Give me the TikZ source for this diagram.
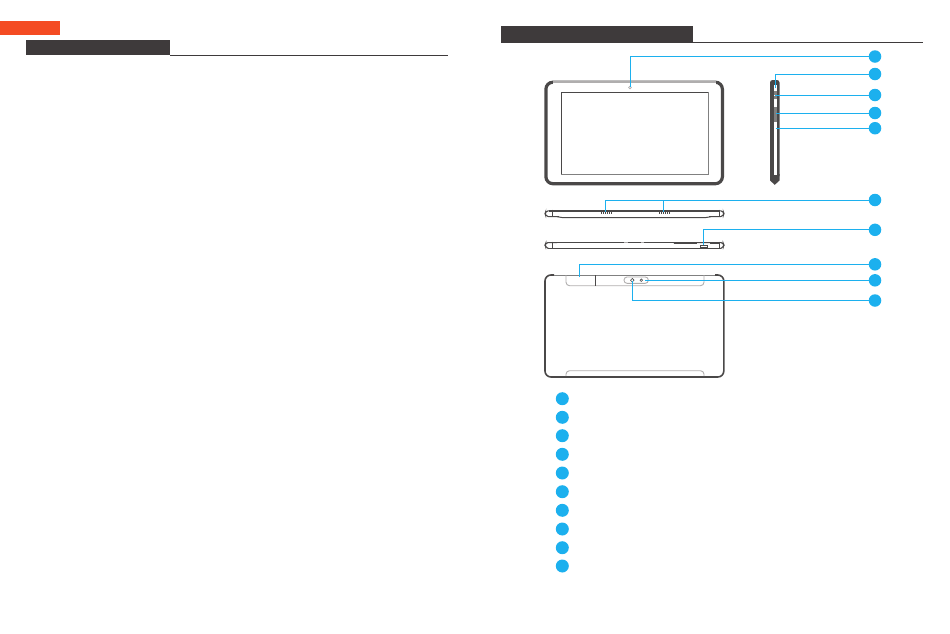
\documentclass[tikz,border=0pt]{standalone}
\definecolor{headbar}{HTML}{3E3A3B}
\definecolor{redtab}{HTML}{F44B22}
\definecolor{callout}{HTML}{1CB0EE}
\definecolor{body}{HTML}{4A4848}
\definecolor{pale}{HTML}{B0AEAE}
\begin{document}
\begin{tikzpicture}[
        x=1pt, y=-1pt,
        marker/.style={circle, fill=callout, inner sep=0pt, minimum size=12.5pt},
        leader/.style={draw=callout, line width=1pt},
        headtab/.style={rectangle, fill=headbar, inner sep=0pt, anchor=north west},
        thin case/.style={draw=body, line width=1pt},
        pale case/.style={draw=pale, line width=0.9pt}
    ]
    \useasboundingbox (0,0) rectangle (950,633);

    % page headers
    \node[rectangle, fill=redtab, inner sep=0pt, anchor=north west, minimum width=60pt, minimum height=14pt] (redflag) at (0,21) {};
    \node[headtab, minimum width=144pt, minimum height=15pt] (lefthead) at (26,40) {};
    \node[headtab, minimum width=192pt, minimum height=17pt] (righthead) at (501,26) {};
    \coordinate (leftend) at (448,55);
    \coordinate (rightend) at (923,42.5);
    \draw[headbar, line width=0.9pt] (lefthead.east |- leftend) -- (leftend);
    \draw[headbar, line width=0.9pt] (righthead.east |- rightend) -- (rightend);

    % front view
    \draw[draw=body, line width=3.2pt, rounded corners=7pt] (545.9,82.2) rectangle (722.4,183.7);
    \draw[draw=white, line width=3.4pt] (553,82.2) -- (715.5,82.2);
    \draw[draw=pale, line width=2.2pt] (553,81.7) -- (715.5,81.7);
    \draw[draw=body, line width=0.8pt] (561,92) -- (708,92);
    \draw[draw=body, line width=0.8pt] (561,92) -- (561,174);
    \draw[draw=gray, line width=0.8pt] (561,174) -- (708,174) -- (708,92);
    \draw[pale, line width=0.7pt] (630,87.5) circle (1.3);

    % side view
    \fill[body, rounded corners=2.5pt] (770,80) rectangle (779.5,178);
    \fill[body] (770,174) -- (779.5,174) -- (779.5,180.5) -- (774.8,184.8) -- (770,180.5) -- cycle;
    \fill[white] (774,84.5) rectangle (776.7,175);
    \fill[gray] (773.8,107) rectangle (777,122);
    \fill[gray] (774,91) rectangle (776.7,99);
    \fill[white] (774.4,94.5) rectangle (776.3,96);

    % top edge
    \draw[draw=body, line width=1.8pt] (549,210.8) -- (720,210.8);
    \draw[thin case, rounded corners=2pt] (549,210.8) -- (546,210.8) -- (545,213.5) -- (546,216.5) -- (559,216.5);
    \draw[thin case, rounded corners=2pt] (720,210.8) -- (723,210.8) -- (724,213.5) -- (723,216.5) -- (709,216.5);
    \draw[thin case, rounded corners=2pt] (557,216.5) -- (560,217.5) -- (708,217.5) -- (711,216.5);
    \draw[thin case] (552,209.5) -- (552,216.5);
    \draw[thin case] (719,209.5) -- (719,216.5);
    \foreach \sx in {600.5,602.5,...,610.5} {
        \fill[body] (\sx,212) rectangle +(1.1,2);
        \fill[body] (\sx+58,212) rectangle +(1.1,2);
    }

    % bottom edge
    \draw[draw=body, line width=1.8pt] (549,248.5) -- (720,248.5);
    \draw[thin case, rounded corners=2pt] (557,242.5) -- (546,242.5) -- (545,245) -- (546,248) -- (549,248.5);
    \draw[thin case, rounded corners=2pt] (673,242.5) -- (723,242.5) -- (724,245) -- (723,248) -- (720,248.5);
    \draw[thin case] (557,242.5) -- (673,242.5);
    \draw[draw=body, line width=1.5pt] (674,243.6) -- (697,243.6);
    \draw[draw=body, line width=1.5pt] (710,243.6) -- (719,243.6);
    \draw[thin case] (552,241.5) -- (552,248);
    \draw[thin case] (719,241.5) -- (719,248);
    \draw[thin case] (700,245.5) rectangle (707,247);
    \fill[pale] (624,241.5) rectangle (628,242.5);
    \fill[pale] (641,241.5) rectangle (644,242.5);

    % back view
    \draw[draw=body, line width=1.6pt, rounded corners=6pt] (554,275) -- (545,275) -- (545,377) -- (723.8,377) -- (723.8,275) -- (715,275);
    \draw[draw=gray, line width=0.9pt] (554,275) -- (715,275);
    \draw[pale case, rounded corners=3.5pt] (566,275) -- (566,285.7) -- (704,285.7) -- (704,275);
    \draw[pale case, rounded corners=3.5pt] (566,376) -- (566,370.7) -- (704,370.7) -- (704,376);
    \draw[thin case] (595.3,275) -- (595.3,285.5);
    \draw[pale case, rounded corners=3pt] (624,277) rectangle (648.3,283.3);
    \draw[draw=body, line width=0.6pt] (632.3,280.2) circle (1.8);
    \draw[draw=body, line width=0.6pt] (641.3,280.2) circle (1.3);

    % callouts on the right
    \foreach \name/\ypos in {a/56.5, b/74, c/95, d/113, e/128.2, f/200, g/229.8, h/264.3, i/280.3, j/300.5} {
        \node[marker] (\name) at (875,\ypos) {};
    }
    \coordinate (frontcam) at (630,87);
    \coordinate (sidetop) at (775.2,87.5);
    \coordinate (sidekey) at (775.2,95);
    \coordinate (sidecard) at (775.5,113);
    \coordinate (sidehole) at (775.5,128.2);
    \coordinate (speakerl) at (605.3,212);
    \coordinate (speakerr) at (663.3,212);
    \coordinate (usbport) at (703.3,245);
    \coordinate (backdot) at (579,277);
    \coordinate (flash) at (645,280.3);
    \coordinate (backcam) at (632.3,281);

    \draw[leader] (frontcam) |- (a);
    \draw[leader] (sidetop) |- (b);
    \draw[leader] (sidekey) -- (c);
    \draw[leader] (sidecard) -- (d);
    \draw[leader] (sidehole) -- (e);
    \draw[leader] (speakerl) |- (f);
    \draw[leader] (speakerr) -- (speakerr |- f);
    \draw[leader] (usbport) |- (g);
    \draw[leader] (backdot) |- (h);
    \draw[leader] (flash) -- (i);
    \draw[leader] (backcam) |- (j);

    % legend column
    \foreach \ypos [count=\k] in {398.7, 417.3, 435.7, 454.3, 473, 491.7, 510.3, 529, 547.7, 566} {
        \node[marker, minimum size=13pt] (legend\k) at (562.3,\ypos) {};
    }
\end{tikzpicture}
\end{document}
